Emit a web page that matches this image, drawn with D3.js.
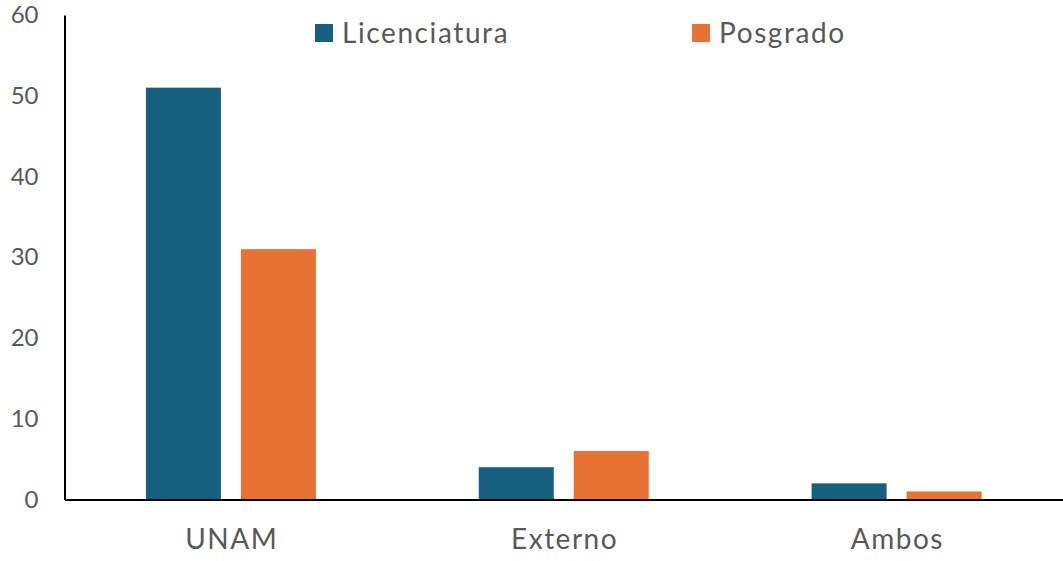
<!DOCTYPE html>
<html><head><meta charset="utf-8">
<script src="https://cdn.jsdelivr.net/npm/d3@7"></script>
<style>body{margin:0;background:#fff;} text{font-family:Lato,"Open Sans",sans-serif;fill:#595959;}</style>
</head><body>
<svg id="c" width="1063" height="561"></svg>
<script>
const categories = ["UNAM", "Externo", "Ambos"];
const seriesNames = ["Licenciatura", "Posgrado"];
const licenciatura = [51, 4, 2];
const posgrado = [31, 6, 1];
const yTicks = [0, 10, 20, 30, 40, 50, 60];
const colors = ["#17607F", "#E87233"];

const svg = d3.select("#c");
const mLeft = 64.5, mRight = 1063, mTop = 15, mBottom = 499.5;
const x = d3.scaleBand().domain(categories).range([mLeft, mRight]).paddingInner(0).paddingOuter(0);
const xs = d3.scaleBand().domain(seriesNames).range([0, x.bandwidth()]).paddingInner(0.2105).paddingOuter(0.857);
const y = d3.scaleLinear().domain([0, 60]).range([mBottom, mTop]);

const data = categories.map((c, i) => ({c, vals: [licenciatura[i], posgrado[i]]}));
const g = svg.append("g");
g.selectAll("g.cat").data(data).join("g").attr("class", "cat")
  .attr("transform", d => `translate(${x(d.c)},0)`)
  .selectAll("rect").data(d => d.vals.map((v, j) => ({s: seriesNames[j], v, j})))
  .join("rect")
  .attr("x", d => xs(d.s)).attr("width", xs.bandwidth())
  .attr("y", d => y(d.v)).attr("height", d => y(0) - y(d.v))
  .attr("fill", d => colors[d.j]);

// y axis
const ya = svg.append("g").attr("transform", `translate(${mLeft},0)`)
  .call(d3.axisLeft(y).tickValues(yTicks).tickSize(0).tickPadding(26));
ya.select(".domain").attr("stroke", "#000").attr("stroke-width", 2);
ya.selectAll("text").attr("font-size", 24).attr("fill", "#595959").style("font-family", "Lato,'Open Sans',sans-serif");

// x axis
const xa = svg.append("g").attr("transform", `translate(0,${mBottom})`)
  .call(d3.axisBottom(x).tickSize(0).tickPadding(30));
xa.select(".domain").attr("stroke", "#000").attr("stroke-width", 2);
xa.selectAll("text").attr("font-size", 28).attr("fill", "#595959").attr("dx", 0.8)
  .style("letter-spacing", "1.5px").style("font-family", "Lato,'Open Sans',sans-serif");

// legend
const legX = [315, 692];
const leg = svg.append("g");
seriesNames.forEach((s, i) => {
  leg.append("rect").attr("x", legX[i]).attr("y", 24).attr("width", 18).attr("height", 18).attr("fill", colors[i]);
  leg.append("text").attr("x", legX[i] + 27).attr("y", 43).attr("font-size", 28)
    .style("letter-spacing", "1.6px").text(s);
});
</script>
</body></html>
